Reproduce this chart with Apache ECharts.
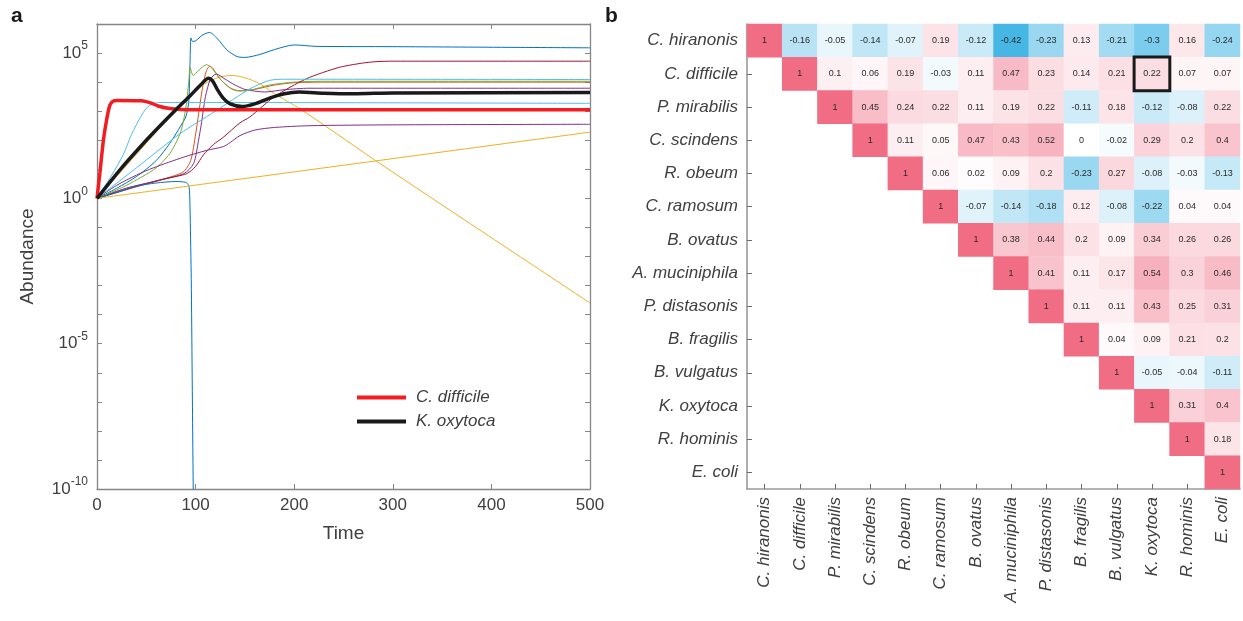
<!DOCTYPE html>
<html>
<head>
<meta charset="utf-8">
<script src="https://cdn.jsdelivr.net/npm/echarts@6/dist/echarts.min.js"></script>
<style>
  html, body { margin: 0; padding: 0; background: #ffffff; }
  #chart { width: 1243px; height: 621px; }
</style>
</head>
<body>
<div id="chart"></div>
<script>
// ---------- Panel a: simulated trajectories, [time, log10(abundance)] ----------
const cDifficile = [[0,0],[3,0.9],[6.5,2.0],[10,2.75],[13,3.2],[16,3.34],[20,3.37],[45,3.36],[55,3.28],[62,3.18],[72,3.1],[85,3.06],[120,3.05],[500,3.05]];
const kOxytoca = [[0,0],[25,1.05],[50,2.0],[64,2.5],[80,3.05],[95,3.55],[105,3.9],[113,4.13],[117,4.05],[122,3.75],[128,3.45],[135,3.25],[147,3.16],[160,3.25],[175,3.45],[190,3.6],[205,3.66],[230,3.62],[260,3.6],[300,3.63],[500,3.64]];

const sp01 = [[0,0],[20,0.35],[40,0.75],[60,1.3],[75,1.95],[85,2.5],[90,2.8],[93,3.3],[94.3,4.6],[95.3,5.52],[97,5.4],[100,5.42],[107,5.62],[114,5.71],[122,5.5],[132,5.1],[142,4.88],[150,4.85],[165,4.95],[180,5.12],[200,5.28],[223,5.23],[300,5.22],[500,5.18]];
const sp02 = [[0,0],[30,0.35],[60,0.6],[87,0.9],[95,1.3],[100,2.2],[103,2.9],[107,3.8],[111,4.4],[114.6,4.55],[118,4.45],[125,4.1],[135,3.8],[145,3.7],[160,3.75],[180,3.9],[200,3.98],[230,4.0],[500,4.0]];
const sp03 = [[0,0],[25,0.95],[50,1.9],[75,2.85],[100,3.75],[115,4.05],[125,4.18],[137,4.23],[150,4.15],[165,3.95],[180,3.6],[206,3.08],[280,1.36],[343,-0.07],[500,-3.6]];
const sp04 = [[0,0],[30,0.35],[60,0.6],[88,0.85],[98,1.2],[103,2.0],[106,2.6],[110,3.5],[115,4.1],[121,4.28],[130,4.1],[140,3.9],[150,3.75],[170,3.66],[190,3.74],[215,3.79],[500,3.79]];
const sp05 = [[0,0],[30,0.45],[60,1.05],[75,1.6],[85,2.3],[90,3.1],[93,4.0],[94.5,4.5],[97.5,4.23],[103,4.4],[111,4.6],[116,4.5],[125,4.1],[135,3.8],[142,3.7],[155,3.72],[175,3.9],[200,4.0],[230,4.03],[500,4.03]];
const sp06 = [[0,0],[15,0.8],[27,1.53],[35,2.2],[44,2.79],[50,3.1],[56,3.25],[65,3.3],[100,3.3],[500,3.27]];
const sp07 = [[0,0],[40,0.4],[70,0.68],[91,0.85],[100,1.1],[108,1.5],[118,1.85],[128,2.1],[145,2.6],[155,2.8],[180,3.5],[212,4.11],[246,4.51],[275,4.68],[297,4.72],[500,4.72]];
const sp08 = [[0,0],[20,0.2],[40,0.42],[60,0.53],[80,0.58],[90,0.55],[93,0.45],[94,0.1],[94.5,-0.6],[95.6,-2.8],[96.5,-6],[97.6,-10],[98,-11]];
const sp10 = [[0,0],[500,2.28]];
const sp11 = [[0,0],[20,0.45],[40,0.8],[57,1.05],[88,1.42],[111,1.65],[128,1.78],[135,1.92],[145,2.16],[160,2.35],[180,2.44],[215,2.5],[300,2.53],[500,2.55]];
const sp13 = [[0,0],[40,1.05],[84,2.22],[120,3.0],[155,3.77],[175,4.06],[190,4.1],[500,4.09]];

const yTickExp = [-10, -5, 0, 5];

// ---------- Panel b: correlation matrix (upper triangle, row i starts at column i) ----------
const species = ['C. hiranonis','C. difficile','P. mirabilis','C. scindens','R. obeum','C. ramosum','B. ovatus','A. muciniphila','P. distasonis','B. fragilis','B. vulgatus','K. oxytoca','R. hominis','E. coli'];
const corrRows = [
  [1,-0.16,-0.05,-0.14,-0.07,0.19,-0.12,-0.42,-0.23,0.13,-0.21,-0.3,0.16,-0.24],
  [1,0.1,0.06,0.19,-0.03,0.11,0.47,0.23,0.14,0.21,0.22,0.07,0.07],
  [1,0.45,0.24,0.22,0.11,0.19,0.22,-0.11,0.18,-0.12,-0.08,0.22],
  [1,0.11,0.05,0.47,0.43,0.52,0,-0.02,0.29,0.2,0.4],
  [1,0.06,0.02,0.09,0.2,-0.23,0.27,-0.08,-0.03,-0.13],
  [1,-0.07,-0.14,-0.18,0.12,-0.08,-0.22,0.04,0.04],
  [1,0.38,0.44,0.2,0.09,0.34,0.26,0.26],
  [1,0.41,0.11,0.17,0.54,0.3,0.46],
  [1,0.11,0.11,0.43,0.25,0.31],
  [1,0.04,0.09,0.21,0.2],
  [1,-0.05,-0.04,-0.11],
  [1,0.31,0.4],
  [1,0.18],
  [1]
];
const highlightPair = ['C. difficile', 'K. oxytoca'];

// ---------- styling ----------
const FONT = '"Liberation Sans", Arial, Helvetica, sans-serif';
const TXT = '#404040';
const AX = '#858585';
const C = { blue:'#0072BD', orange:'#D95319', yellow:'#EDB120', purple:'#7E2F8E', green:'#77AC30', cyan:'#4DBEEE', wine:'#A2142F' };

const thin = [
  [sp01, C.blue], [sp02, C.orange], [sp03, C.yellow], [sp04, C.purple], [sp05, C.green],
  [sp06, C.cyan], [sp07, C.wine], [sp08, C.blue], [sp10, C.yellow], [sp11, C.purple], [sp13, C.cyan]
];

const SMOOTH = 0.25;
const series = [];
thin.forEach(([d, col]) => {
  series.push({
    type: 'line', xAxisIndex: 0, yAxisIndex: 0, data: d, symbol: 'none',
    smooth: SMOOTH, silent: true,
    lineStyle: { color: col, width: 1 }, itemStyle: { color: col }
  });
});
series.push({
  name: 'C. difficile', type: 'line', xAxisIndex: 0, yAxisIndex: 0, data: cDifficile, symbol: 'none',
  smooth: SMOOTH, lineStyle: { color: '#F01E23', width: 3.5 }, itemStyle: { color: '#F01E23' }, z: 5
});
series.push({
  name: 'K. oxytoca', type: 'line', xAxisIndex: 0, yAxisIndex: 0, data: kOxytoca, symbol: 'none',
  smooth: SMOOTH, lineStyle: { color: '#1A1A1A', width: 3.5 }, itemStyle: { color: '#1A1A1A' }, z: 6
});

// heatmap cells
const cells = [];
corrRows.forEach((row, i) => row.forEach((v, k) => cells.push([i + k, i, v])));
const heatIndex = series.length;
series.push({
  type: 'heatmap', xAxisIndex: 2, yAxisIndex: 2, data: cells,
  label: { show: true, fontSize: 9, color: '#2a2a2a', fontFamily: FONT, formatter: p => String(p.value[2]) },
  itemStyle: { borderWidth: 0 }, emphasis: { disabled: true }
});
const hx = species.indexOf(highlightPair[1]), hy = species.indexOf(highlightPair[0]);
series.push({
  type: 'heatmap', xAxisIndex: 2, yAxisIndex: 2, z: 10,
  data: [[hx, hy, corrRows[hy][hx - hy]]],
  label: { show: false },
  itemStyle: { color: 'rgba(0,0,0,0)', borderColor: '#1a1a1a', borderWidth: 3 }, emphasis: { disabled: true }
});

const tickIn = { show: true, inside: true, length: 5, lineStyle: { color: AX, width: 1 } };
const catTickIn = { show: true, inside: true, length: 5, alignWithLabel: true, lineStyle: { color: '#6a6a6a', width: 1 } };
const frameLine = { show: true, onZero: false, lineStyle: { color: AX, width: 1.3 } };

const option = {
  animation: false,
  backgroundColor: '#ffffff',
  textStyle: { fontFamily: FONT },
  grid: [
    { left: 97, top: 24, width: 493, height: 465, containLabel: false },
    { left: 747, top: 24, width: 493, height: 465, containLabel: false }
  ],
  legend: {
    data: ['C. difficile', 'K. oxytoca'], orient: 'vertical', left: 352, top: 384,
    itemWidth: 49, itemHeight: 4, itemGap: 7, icon: 'rect',
    textStyle: { fontSize: 17, fontStyle: 'italic', color: TXT, fontFamily: FONT, padding: [0, 0, 0, 5] },
    selectedMode: false
  },
  visualMap: {
    type: 'continuous', show: false, seriesIndex: heatIndex, dimension: 2, min: -1, max: 1,
    inRange: { color: ['#23AAE0','#23AAE0','#23AAE0','#91D4F0','#FFFFFF','#FBDAE0','#F8B6C2','#F491A3','#F06D84'] }
  },
  xAxis: [
    { type: 'value', gridIndex: 0, position: 'bottom', min: 0, max: 500, interval: 100,
      axisLine: frameLine, axisTick: tickIn,
      axisLabel: { fontSize: 17, color: TXT, margin: 8, fontFamily: FONT }, splitLine: { show: false },
      name: 'Time', nameLocation: 'middle', nameGap: 35, nameTextStyle: { fontSize: 19, color: TXT, fontFamily: FONT } },
    { type: 'value', gridIndex: 0, position: 'top', min: 0, max: 500, interval: 100,
      axisLine: frameLine, axisTick: tickIn,
      axisLabel: { show: false }, splitLine: { show: false } },
    { type: 'category', gridIndex: 1, position: 'bottom', data: species,
      axisLine: { show: true, onZero: false, lineStyle: { color: '#9a9a9a', width: 1.6 } }, axisTick: catTickIn,
      axisLabel: { rotate: 90, fontSize: 17, fontStyle: 'italic', color: TXT, margin: 8, fontFamily: FONT },
      splitLine: { show: false } },
    { type: 'category', gridIndex: 1, position: 'top', data: species,
      axisLine: { show: false }, axisTick: catTickIn, axisLabel: { show: false }, splitLine: { show: false } }
  ],
  yAxis: [
    { type: 'value', gridIndex: 0, position: 'left', min: -10, max: 6, interval: 1,
      axisLine: frameLine, axisTick: tickIn, splitLine: { show: false },
      axisLabel: {
        margin: 9, fontFamily: FONT,
        formatter: v => (yTickExp.indexOf(v) >= 0 ? '{b|10}{s|' + v + '}' : ''),
        rich: {
          b: { fontSize: 17, color: TXT, lineHeight: 26, verticalAlign: 'middle', fontFamily: FONT },
          s: { fontSize: 12, color: TXT, lineHeight: 12, verticalAlign: 'top', fontFamily: FONT }
        }
      },
      name: 'Abundance', nameLocation: 'middle', nameRotate: 90, nameGap: 60,
      nameTextStyle: { fontSize: 19, color: TXT, fontFamily: FONT } },
    { type: 'value', gridIndex: 0, position: 'right', min: -10, max: 6, interval: 1,
      axisLine: frameLine, axisTick: tickIn,
      axisLabel: { show: false }, splitLine: { show: false } },
    { type: 'category', gridIndex: 1, position: 'left', data: species, inverse: true,
      axisLine: { show: true, onZero: false, lineStyle: { color: '#9a9a9a', width: 1.6 } }, axisTick: catTickIn,
      axisLabel: { fontSize: 17, fontStyle: 'italic', color: TXT, margin: 9, fontFamily: FONT },
      splitLine: { show: false } },
    { type: 'category', gridIndex: 1, position: 'right', data: species, inverse: true,
      axisLine: { show: false }, axisTick: catTickIn, axisLabel: { show: false }, splitLine: { show: false } }
  ],
  graphic: [
    { type: 'text', left: 11, top: 6, style: { text: 'a', font: 'bold 21px ' + FONT, fill: '#1a1a1a' } },
    { type: 'text', left: 605, top: 6, style: { text: 'b', font: 'bold 21px ' + FONT, fill: '#1a1a1a' } }
  ],
  series: series
};

const chart = echarts.init(document.getElementById('chart'), null, { renderer: 'canvas' });
chart.setOption(option);
</script>
</body>
</html>
